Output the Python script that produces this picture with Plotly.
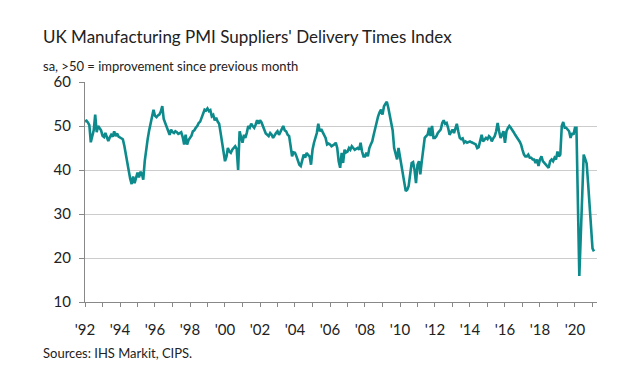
import plotly.graph_objects as go
import pandas as pd

# Monthly index values, Jan 1992 - Feb 2021
y1992 = [51.0, 51.2, 50.8, 50.2, 46.3, 47.5, 49.0, 52.6, 48.6, 50.0, 49.6, 49.0]
y1993 = [47.8, 47.5, 48.4, 47.2, 46.6, 47.4, 48.0, 47.6, 48.8, 47.7, 48.3, 47.6]
y1994 = [47.4, 47.3, 47.0, 45.5, 43.5, 41.2, 39.5, 38.0, 36.8, 38.5, 37.0, 38.4]
y1995 = [39.4, 38.3, 39.6, 39.2, 37.8, 42.0, 45.0, 47.0, 49.0, 50.8, 52.0, 53.7]
y1996 = [52.3, 52.0, 52.4, 52.6, 53.3, 54.5, 51.6, 50.8, 50.0, 48.8, 48.0, 49.2]
y1997 = [48.6, 48.4, 48.8, 48.6, 48.2, 48.4, 48.6, 47.5, 45.8, 48.0, 45.8, 46.8]
y1998 = [47.3, 47.8, 48.8, 49.0, 49.6, 50.0, 50.7, 51.0, 51.9, 52.6, 53.7, 53.5]
y1999 = [54.0, 53.4, 53.6, 52.2, 52.5, 51.3, 51.9, 51.0, 50.5, 48.5, 46.0, 43.5]
y2000 = [42.0, 43.0, 45.0, 44.2, 43.9, 44.6, 45.0, 45.4, 44.8, 40.0, 48.8, 47.3]
y2001 = [46.2, 48.0, 47.3, 48.5, 50.0, 49.6, 50.5, 50.0, 49.6, 50.3, 51.3, 50.5]
y2002 = [51.3, 50.8, 50.0, 48.8, 48.3, 48.0, 47.7, 48.4, 48.0, 47.3, 48.0, 48.4]
y2003 = [48.8, 48.0, 48.6, 49.2, 50.0, 49.0, 48.8, 48.0, 47.7, 45.5, 43.1, 44.0]
y2004 = [43.9, 43.1, 42.0, 41.2, 40.9, 42.0, 43.5, 42.8, 43.9, 43.4, 43.1, 41.2]
y2005 = [44.6, 46.2, 47.3, 48.4, 50.5, 48.8, 49.3, 48.6, 48.0, 47.3, 45.8, 46.0]
y2006 = [45.8, 45.4, 45.6, 45.8, 46.2, 45.0, 42.0, 40.5, 43.9, 41.6, 44.6, 44.0]
y2007 = [44.2, 45.0, 44.6, 45.4, 45.0, 44.6, 44.8, 45.0, 44.6, 46.2, 44.2, 43.1]
y2008 = [43.1, 43.9, 43.1, 45.0, 45.8, 46.5, 48.0, 49.6, 51.3, 52.2, 53.1, 53.7]
y2009 = [52.6, 54.5, 55.0, 55.5, 54.2, 52.2, 50.5, 49.0, 45.0, 43.5, 42.4, 45.0]
y2010 = [43.1, 41.2, 39.4, 37.5, 35.2, 35.5, 36.4, 39.0, 41.6, 41.8, 40.0, 37.0]
y2011 = [41.2, 42.0, 39.0, 42.0, 44.5, 47.3, 47.7, 48.0, 49.6, 47.7, 50.0, 47.3]
y2012 = [47.3, 47.7, 48.4, 48.8, 49.2, 50.7, 51.3, 50.5, 50.7, 49.6, 48.0, 48.6]
y2013 = [49.2, 48.4, 49.2, 50.5, 48.8, 47.3, 47.0, 47.2, 46.2, 46.5, 46.2, 46.4]
y2014 = [46.5, 46.3, 46.2, 46.0, 45.8, 45.0, 45.2, 46.5, 48.0, 46.5, 47.0, 47.3]
y2015 = [47.0, 47.7, 47.4, 46.5, 47.2, 47.7, 48.8, 50.7, 48.8, 47.3, 48.0, 48.8]
y2016 = [46.2, 48.8, 49.5, 50.0, 49.6, 49.2, 48.6, 48.0, 47.3, 47.0, 46.5, 45.8]
y2017 = [44.6, 43.5, 43.1, 43.1, 43.5, 42.8, 42.8, 42.4, 42.4, 41.6, 42.4, 40.9]
y2018 = [42.4, 43.1, 42.0, 41.6, 41.2, 41.0, 40.5, 42.0, 42.4, 42.0, 42.8, 42.4]
y2019 = [44.2, 43.1, 43.5, 50.0, 50.9, 49.6, 49.6, 49.2, 48.8, 47.3, 48.4, 48.0]
y2020 = [49.6, 49.6, 35.0, 15.9, 25.0, 34.0, 43.5, 42.5, 41.5, 37.0, 32.0, 27.0]
y2021 = [22.2, 21.5]

values = (y1992 + y1993 + y1994 + y1995 + y1996 + y1997 + y1998 + y1999 + y2000 + y2001
          + y2002 + y2003 + y2004 + y2005 + y2006 + y2007 + y2008 + y2009 + y2010 + y2011
          + y2012 + y2013 + y2014 + y2015 + y2016 + y2017 + y2018 + y2019 + y2020 + y2021)
dates = pd.date_range("1992-01-01", periods=len(values), freq="MS")

label_years = list(range(1992, 2021, 2))
tick_vals = [f"{y}-01-01" for y in label_years]
tick_text = ["'" + str(y)[2:] for y in label_years]
minor_vals = [f"{y}-01-01" for y in range(1992, 2022)]

title_text = "UK Manufacturing PMI Suppliers' Delivery Times Index"
subtitle_text = "sa, >50 = improvement since previous month"
source_text = "Sources: IHS Markit, CIPS."

FONT = "Lato, sans-serif"
TEAL = "#0d8a8c"

fig = go.Figure(go.Scatter(x=dates, y=values, mode="lines",
                           line=dict(color=TEAL, width=2.6), hoverinfo="skip"))

fig.update_layout(
    width=626, height=367,
    margin=dict(l=77, r=37, t=74, b=73, autoexpand=False),
    paper_bgcolor="white", plot_bgcolor="white",
    showlegend=False,
    font=dict(family=FONT, color="#222"),
    xaxis=dict(
        range=["1992-01-01", "2021-04-05"],
        tickmode="array", tickvals=tick_vals, ticktext=tick_text,
        ticks="outside", ticklen=4, tickcolor="#888", tickwidth=1,
        showgrid=False, showline=True, linecolor="#888", linewidth=1,
        zeroline=False, automargin=False,
        ticklabelstandoff=10,
        tickfont=dict(size=15, color="#222"),
        minor=dict(tickmode="array", tickvals=minor_vals, ticks="outside",
                   ticklen=4, tickcolor="#888", showgrid=False),
    ),
    yaxis=dict(
        range=[10, 60], dtick=10, tick0=10,
        showgrid=True, gridcolor="#cccccc", gridwidth=1,
        showline=True, linecolor="#888", linewidth=1,
        ticks="outside", ticklen=5, tickcolor="#888",
        zeroline=False, automargin=False,
        ticklabelstandoff=5,
        tickfont=dict(size=15, color="#222"),
    ),
    annotations=[
        dict(text=title_text, xref="paper", yref="paper", x=-0.086, y=1.205,
             xanchor="left", yanchor="middle", showarrow=False,
             font=dict(size=17, color="#222", family=FONT)),
        dict(text=subtitle_text, xref="paper", yref="paper", x=-0.086, y=1.073,
             xanchor="left", yanchor="middle", showarrow=False,
             font=dict(size=13, color="#222", family=FONT)),
        dict(text=source_text, xref="paper", yref="paper", x=-0.086, y=-0.232,
             xanchor="left", yanchor="middle", showarrow=False,
             font=dict(size=13, color="#222", family=FONT)),
    ],
)

fig.write_html("out.html")
